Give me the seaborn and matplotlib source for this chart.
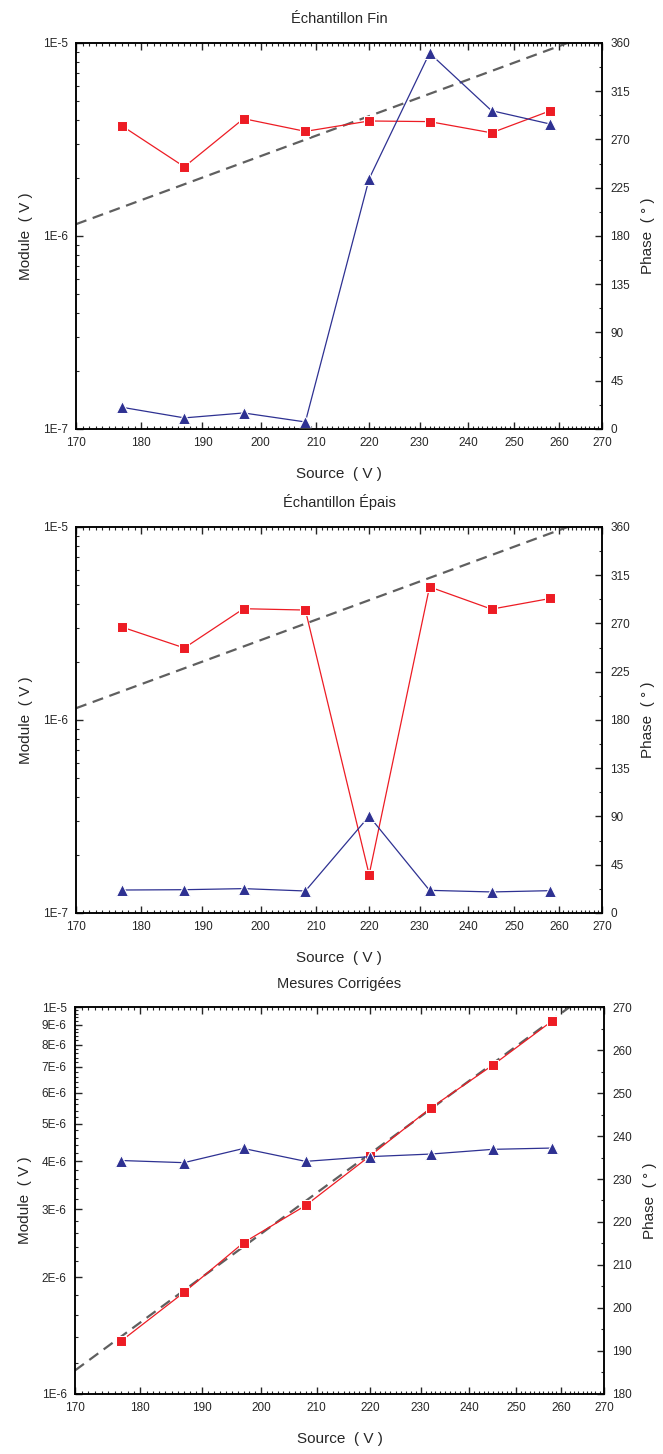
import numpy as np
import matplotlib
matplotlib.use("Agg")
import matplotlib.pyplot as plt
import matplotlib.ticker as mticker
import seaborn as sns

# data
volts = [177, 187, 197, 208, 220, 232, 245, 258]

fin_module = [3.72e-6, 2.28e-6, 4.05e-6, 3.48e-6, 3.94e-6, 3.91e-6, 3.42e-6, 4.45e-6]
fin_phase = [20.2, 10.3, 14.9, 6.5, 233.3, 350.5, 296.8, 284.3]

epais_module = [3.03e-6, 2.36e-6, 3.77e-6, 3.71e-6, 1.58e-7, 4.89e-6, 3.75e-6, 4.26e-6]
epais_phase = [21.4, 21.7, 22.7, 20.5, 90.3, 21.1, 19.6, 20.8]

corr_module = [1.37e-6, 1.83e-6, 2.46e-6, 3.07e-6, 4.12e-6, 5.48e-6, 7.08e-6, 9.2e-6]
corr_phase = [234.3, 233.8, 237.1, 234.1, 235.2, 235.8, 236.9, 237.2]

# dashed reference line (straight on log-log axes)
ref_volts = [170, 262]
ref_module = [1.15e-6, 1.0e-5]

titles = ["Échantillon Fin", "Échantillon Épais", "Mesures Corrigées"]

x_ticks = [170, 180, 190, 200, 210, 220, 230, 240, 250, 260, 270]
x_labels = [str(v) for v in x_ticks]

wide_ticks = [1e-7, 1e-6, 1e-5]
wide_labels = ["1E-7", "1E-6", "1E-5"]
corr_ticks = [1e-6, 2e-6, 3e-6, 4e-6, 5e-6, 6e-6, 7e-6, 8e-6, 9e-6, 1e-5]
corr_labels = ["1E-6", "2E-6", "3E-6", "4E-6", "5E-6", "6E-6", "7E-6", "8E-6", "9E-6", "1E-5"]

phase_ticks = [0, 45, 90, 135, 180, 225, 270, 315, 360]
corr_phase_ticks = [180, 190, 200, 210, 220, 230, 240, 250, 260, 270]

RED = "#ED1C24"
BLUE = "#2E3192"
GREY = "#5F5F5F"

sns.set_style("ticks")
plt.rcParams["font.family"] = ["Liberation Sans", "DejaVu Sans"]
plt.rcParams["axes.linewidth"] = 1.1

fig = plt.figure(figsize=(6.63, 14.54), dpi=100)


def draw_panel(rect, title, module, phase, ylim, yticks, ylabels, yminor, plim, pticks, pminor):
    ax = fig.add_axes(rect)
    ax.set_xscale("log")
    ax.set_yscale("log")
    ax2 = ax.twinx()

    sns.lineplot(x=ref_volts, y=ref_module, ax=ax, color=GREY, linewidth=1.6,
                 linestyle=(0, (5, 3)), estimator=None)
    sns.lineplot(x=volts, y=module, ax=ax, color=RED, marker="s", markersize=7,
                 linewidth=0.9, estimator=None)
    sns.lineplot(x=volts, y=phase, ax=ax2, color=BLUE, marker="^", markersize=8.5,
                 linewidth=0.9, estimator=None)

    ax.set_xlim(170, 270)
    ax.set_ylim(*ylim)
    ax2.set_ylim(*plim)

    ax.xaxis.set_major_locator(mticker.FixedLocator(x_ticks))
    ax.xaxis.set_major_formatter(mticker.FixedFormatter(x_labels))
    ax.xaxis.set_minor_locator(mticker.FixedLocator([v for v in range(170, 271) if v % 10]))
    ax.xaxis.set_minor_formatter(mticker.NullFormatter())

    ax.yaxis.set_major_locator(mticker.FixedLocator(yticks))
    ax.yaxis.set_major_formatter(mticker.FixedFormatter(ylabels))
    ax.yaxis.set_minor_locator(yminor)
    ax.yaxis.set_minor_formatter(mticker.NullFormatter())

    ax2.yaxis.set_major_locator(mticker.FixedLocator(pticks))
    ax2.yaxis.set_minor_locator(mticker.MultipleLocator(pminor))

    ax.tick_params(axis="both", which="both", direction="in", top=True, right=False,
                   labelsize=8.5, pad=6)
    ax.tick_params(which="major", length=5, width=1)
    ax.tick_params(which="minor", length=2.5, width=0.8)
    ax2.tick_params(axis="y", which="both", direction="in", right=True, left=False,
                    labelsize=8.5, pad=6)
    ax2.tick_params(which="major", length=5, width=1)
    ax2.tick_params(which="minor", length=2.5, width=0.8)

    ax.set_title(title, fontsize=10.5, pad=14)
    ax.set_xlabel("Source  ( V )", fontsize=11, labelpad=13)
    ax.set_ylabel("Module  ( V )", fontsize=11, labelpad=7)
    ax2.set_ylabel("Phase  ( ° )", fontsize=11, labelpad=8)

    for a in (ax, ax2):
        for s in a.spines.values():
            s.set_linewidth(1.1)
            s.set_color("black")
    return ax, ax2


draw_panel([0.1146, 0.7050, 0.7934, 0.2655], titles[0], fin_module, fin_phase,
           (1e-7, 1e-5), wide_ticks, wide_labels,
           mticker.LogLocator(base=10, subs=range(2, 10)), (0, 360), phase_ticks, 22.5)

draw_panel([0.1146, 0.3721, 0.7934, 0.2655], titles[1], epais_module, epais_phase,
           (1e-7, 1e-5), wide_ticks, wide_labels,
           mticker.LogLocator(base=10, subs=range(2, 10)), (0, 360), phase_ticks, 22.5)

corr_minor = [m * 1e-6 for m in np.arange(1.2, 10, 0.2) if abs(m - round(m)) > 1e-6]
draw_panel([0.1131, 0.0413, 0.7979, 0.2661], titles[2], corr_module, corr_phase,
           (1e-6, 1e-5), corr_ticks, corr_labels,
           mticker.FixedLocator(corr_minor), (180, 270), corr_phase_ticks, 5)

fig.savefig("out.png", dpi=100)
